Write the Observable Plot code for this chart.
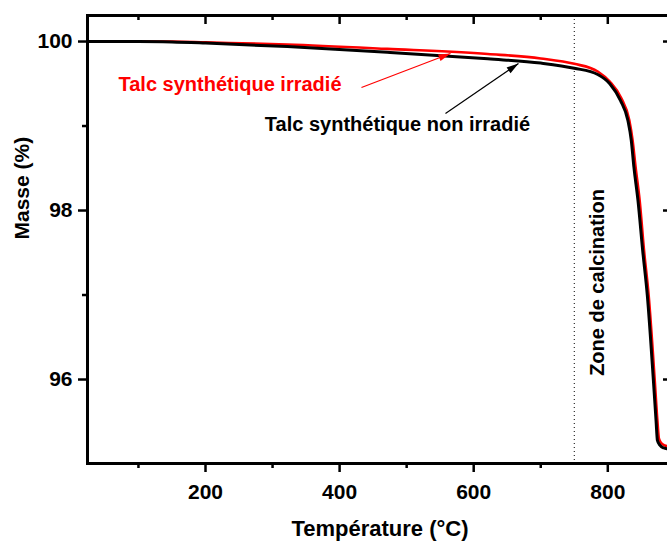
<!DOCTYPE html>
<html><head><meta charset="utf-8">
<script src="https://cdn.jsdelivr.net/npm/d3@7"></script>
<script src="https://cdn.jsdelivr.net/npm/@observablehq/plot@0.6"></script>
<style>html,body{margin:0;padding:0;background:#fff;overflow:hidden}</style>
</head><body><div id="chart"></div>
<script>
// --- data ---
const tempNonIrradie = [24, 100, 150, 200, 322, 471, 621, 700, 750, 785, 803, 819, 830, 835, 839, 845, 852, 859, 868, 872, 874, 878, 883.5, 889.5, 897];
const masseNonIrradie = [100, 100, 99.995, 99.982, 99.94, 99.873, 99.795, 99.745, 99.684, 99.61, 99.50, 99.30, 99.065, 98.83, 98.51, 98.12, 97.53, 96.99, 95.99, 95.51, 95.28, 95.22, 95.19, 95.18, 95.175];
const tempIrradie = [24, 100, 150, 200, 322, 471, 621, 700, 750, 785, 803, 820, 832, 837, 841.5, 847.5, 854, 861, 870, 874, 876.3, 880, 885, 890, 897];
const masseIrradie = [100, 100, 100, 99.99, 99.965, 99.913, 99.852, 99.80, 99.736, 99.645, 99.525, 99.33, 99.07, 98.83, 98.51, 98.12, 97.53, 96.99, 95.99, 95.51, 95.30, 95.245, 95.22, 95.21, 95.205];
const xMajorTicks = [200, 400, 600, 800];
const xMinorTicks = [100, 300, 500, 700];
const yMajorTicks = [96, 98, 100];
const yMinorTicks = [97, 99];
const calcinationTemp = [750];
const xLabel = "Température (°C)";
const yLabel = "Masse (%)";
const labelIrradie = "Talc synthétique irradié";
const labelNonIrradie = "Talc synthétique non irradié";
const labelZone = "Zone de calcination";

// --- layout ---
const W = 667, H = 543, mL = 87, mR = -5, mT = 15, mB = 80;
const xDomain = [24, 896.5], yDomain = [95.006, 100.308];
const fw = W - mL - mR, fh = H - mT - mB;
const FONT = "'Liberation Sans', Arial, Helvetica, sans-serif";

const serieNon = tempNonIrradie.map((t, i) => ({t, m: masseNonIrradie[i]}));
const serieIrr = tempIrradie.map((t, i) => ({t, m: masseIrradie[i]}));

// annotation anchors (data coordinates)
const arrowRed = {from: [432.6, 99.456], to: [565.4, 99.858]};
const arrowBlack = {from: [557.9, 99.148], to: [666.8, 99.740]};

const xs = Plot.scale({x: {domain: xDomain, range: [mL, W - mR]}});
const ys = Plot.scale({y: {domain: yDomain, range: [H - mB, mT]}});
function headSymbol(a0, a1) {
  const dx = xs.apply(a1[0]) - xs.apply(a0[0]);
  const dy = ys.apply(a1[1]) - ys.apply(a0[1]);
  const a = Math.atan2(dy, dx), c = Math.cos(a), s = Math.sin(a);
  const L = 12, w = 3.5;
  return {draw(ctx) {
    ctx.moveTo(0, 0);
    ctx.lineTo(-L * c - w * s, -L * s + w * c);
    ctx.lineTo(-L * c + w * s, -L * s - w * c);
    ctx.closePath();
  }};
}

const chart = Plot.plot({
  width: W, height: H,
  marginLeft: mL, marginRight: mR, marginTop: mT, marginBottom: mB,
  style: {fontFamily: FONT, fontWeight: "bold", fontSize: "21px", color: "black", background: "white"},
  x: {domain: xDomain, ticks: xMajorTicks, tickSize: 0, tickPadding: 21, label: null, tickFormat: d => String(d)},
  y: {domain: yDomain, ticks: yMajorTicks, tickSize: 0, tickPadding: 15, label: null, tickFormat: d => String(d)},
  marks: [
    Plot.ruleX(calcinationTemp, {x: d => d, stroke: "black", strokeWidth: 1, strokeDasharray: "1,3"}),
    Plot.line(serieIrr, {x: "t", y: "m", stroke: "#ff0000", strokeWidth: 2.6, curve: "monotone-x"}),
    Plot.line(serieNon, {x: "t", y: "m", stroke: "black", strokeWidth: 3, curve: "monotone-x"}),
    // arrows
    Plot.link([arrowRed], {x1: d => d.from[0], y1: d => d.from[1], x2: d => d.to[0], y2: d => d.to[1], stroke: "#ff0000", strokeWidth: 1.2}),
    Plot.dot([arrowRed], {x: d => d.to[0], y: d => d.to[1], symbol: headSymbol(arrowRed.from, arrowRed.to), fill: "#ff0000", stroke: "none"}),
    Plot.link([arrowBlack], {x1: d => d.from[0], y1: d => d.from[1], x2: d => d.to[0], y2: d => d.to[1], stroke: "black", strokeWidth: 1.2}),
    Plot.dot([arrowBlack], {x: d => d.to[0], y: d => d.to[1], symbol: headSymbol(arrowBlack.from, arrowBlack.to), fill: "black", stroke: "none"}),
    // annotations
    Plot.text([labelIrradie], {x: () => 70.2, y: () => 99.495, text: d => d, fill: "#ff0000", fontSize: 20, fontWeight: "bold", textAnchor: "start", lineAnchor: "middle"}),
    Plot.text([labelNonIrradie], {x: () => 486.3, y: () => 99.015, text: d => d, fill: "black", fontSize: 20, fontWeight: "bold", textAnchor: "middle", lineAnchor: "middle"}),
    Plot.text([labelZone], {x: () => 784.6, y: () => 97.148, text: d => d, fill: "black", fontSize: 20, fontWeight: "bold", rotate: -90, textAnchor: "middle", lineAnchor: "middle"}),
    // frame
    Plot.frame({stroke: "black", strokeWidth: 3}),
    // ticks: bottom (outward), top (inward)
    Plot.ruleX(xMajorTicks, {x: d => d, insetTop: fh, insetBottom: -9, stroke: "black", strokeWidth: 2.5}),
    Plot.ruleX(xMinorTicks, {x: d => d, insetTop: fh, insetBottom: -5, stroke: "black", strokeWidth: 2.5}),
    Plot.ruleX(xMajorTicks, {x: d => d, insetTop: 0, insetBottom: fh - 9, stroke: "black", strokeWidth: 2.5}),
    Plot.ruleX(xMinorTicks, {x: d => d, insetTop: 0, insetBottom: fh - 5, stroke: "black", strokeWidth: 2.5}),
    // ticks: left (outward), right (inward)
    Plot.ruleY(yMajorTicks, {y: d => d, insetLeft: -9, insetRight: fw, stroke: "black", strokeWidth: 2.5}),
    Plot.ruleY(yMinorTicks, {y: d => d, insetLeft: -5, insetRight: fw, stroke: "black", strokeWidth: 2.5}),
    Plot.ruleY(yMajorTicks, {y: d => d, insetLeft: fw - 9, insetRight: 0, stroke: "black", strokeWidth: 2.5}),
    Plot.ruleY(yMinorTicks, {y: d => d, insetLeft: fw - 5, insetRight: 0, stroke: "black", strokeWidth: 2.5}),
    // axis titles
    Plot.text([xLabel], {frameAnchor: "bottom", dy: 65, text: d => d, fontSize: 22, fontWeight: "bold", lineAnchor: "middle"}),
    Plot.text([yLabel], {frameAnchor: "left", dx: -65, text: d => d, fontSize: 21, fontWeight: "bold", rotate: -90, lineAnchor: "middle"})
  ]
});
document.getElementById("chart").appendChild(chart);
</script>
</body></html>
